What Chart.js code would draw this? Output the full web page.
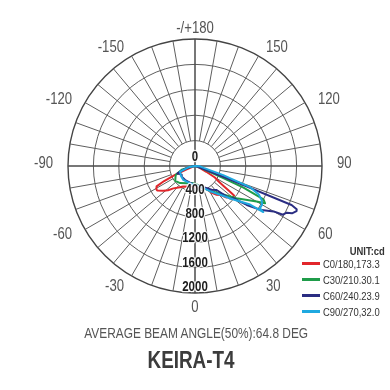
<!DOCTYPE html>
<html><head><meta charset="utf-8">
<script src="https://cdn.jsdelivr.net/npm/chart.js@4.4.1/dist/chart.umd.min.js"></script>
<style>
html,body{margin:0;padding:0;background:#fff;width:390px;height:390px;overflow:hidden;}
#wrap{position:absolute;left:0;top:0;width:390px;height:390px;}
.txt{position:absolute;white-space:nowrap;}
#beam{left:1px;width:390px;top:325px;text-align:center;font-size:14.5px;line-height:16px;color:#555;}
#title{left:-4px;width:390px;top:347px;text-align:center;font-size:23px;line-height:26px;font-weight:bold;color:#3c3c3c;}
#unit{right:5px;top:245px;font-size:11.5px;line-height:13px;font-weight:bold;color:#333;}
.row{position:absolute;left:302px;height:16px;}
.sw{position:absolute;left:0;top:6px;width:18px;height:3px;}
.lt{position:absolute;left:21px;top:0;font-size:11.5px;line-height:16px;color:#333;white-space:nowrap;}
</style></head><body>
<div id="wrap"><canvas id="c" width="390" height="390"></canvas></div>
<div id="legend"></div>
<div id="beam" class="txt">AVERAGE BEAM ANGLE(50%):64.8 DEG</div>
<div id="title" class="txt">KEIRA-T4</div>
<script>
// ---------- data ----------
const tickValues = [0, 400, 800, 1200, 1600, 2000];
const angleLabelStep = 30;
const seriesNames = ['C0/180,173.3', 'C30/210.30.1', 'C60/240.23.9', 'C90/270,32.0'];
const seriesColors = ['#e2262b', '#1f9c4a', '#2a2d82', '#1fa9e0'];

const c0Gamma = [90, 75, 68, 63, 60, 57, 55, 54, 53, 51, 47, 45, 41, 37, 32, 27, 15, 0, -14, -30, -35, -44, -48, -52, -57, -59, -62, -64, -66, -68, -75, -90];
const c0Cd    = [0, 30, 80, 200, 362, 440, 560, 650, 770, 776, 713, 702, 603, 566, 500, 410, 340, 320, 335, 374, 410, 490, 570, 632, 710, 710, 685, 541, 345, 150, 30, 0];

const c30Gamma = [90, 80, 75, 70, 67, 66, 64, 62, 60, 52, 31, 15, 0, -11, -25, -41, -53, -65, -74, -80, -90];
const c30Cd    = [0, 20, 40, 150, 485, 836, 1200, 1250, 1119, 827, 455, 330, 280, 273, 300, 357, 390, 336, 218, 60, 0];

const c60Gamma = [90, 80, 72, 69, 68, 67, 66, 64, 63, 61, 60, 56, 53, 50, 47, 42, 35, 15, 0, -17, -35, -51, -57, -67, -75, -85, -90];
const c60Cd    = [0, 20, 80, 480, 1640, 1740, 1750, 1700, 1620, 1583, 1430, 1230, 1020, 790, 750, 509, 456, 330, 300, 274, 270, 269, 250, 301, 150, 30, 0];

const c90Gamma = [90, 86, 78, 72, 69, 66, 63, 60, 57, 56, 55, 49, 31, 15, 0, -15, -28, -40, -55, -69, -79, -90];
const c90Cd    = [0, 80, 140, 468, 926, 1100, 1177, 1220, 1219, 1297, 1059, 803, 463, 340, 300, 285, 280, 287, 270, 252, 107, 0];

// ---------- build table ----------
const N = 360;
const gammaLabels = [];
for (let i = 0; i < N; i++) gammaLabels.push(i === 0 ? '-/+180' : String(180 - i));
function toSeries(gs, vs) {
  const arr = new Array(N).fill(null);
  gs.forEach((g, k) => { const idx = ((Math.round(180 - g) % N) + N) % N; arr[idx] = vs[k]; });
  return arr;
}
const seriesData = [toSeries(c0Gamma, c0Cd), toSeries(c30Gamma, c30Cd), toSeries(c60Gamma, c60Cd), toSeries(c90Gamma, c90Cd)];
const drawOrder = [3, 2, 1, 0];

// ---------- font detection ----------
function narrowAvailable() {
  const c = document.createElement('canvas').getContext('2d');
  c.font = '40px "Liberation Sans Narrow", "Liberation Sans"';
  const a = c.measureText('AVERAGE BEAM 0123').width;
  c.font = '40px "Liberation Sans"';
  const b = c.measureText('AVERAGE BEAM 0123').width;
  return Math.abs(a - b) > 2;
}
const hasNarrow = narrowAvailable();
const FAMILY = hasNarrow ? '"Liberation Sans Narrow", "Liberation Sans", sans-serif' : '"Liberation Sans", sans-serif';
const SQ = hasNarrow ? 1 : 0.82;

function squeezeEl(el, origin) {
  el.style.fontFamily = FAMILY;
  if (SQ !== 1) { el.style.transform = 'scaleX(' + SQ + ')'; el.style.transformOrigin = origin; }
}
squeezeEl(document.getElementById('beam'), '196px 50%');
squeezeEl(document.getElementById('title'), '195px 50%');

// legend (html)
const legend = document.getElementById('legend');
const unit = document.createElement('div');
unit.className = 'txt'; unit.id = 'unit'; unit.textContent = 'UNIT:cd';
legend.appendChild(unit); squeezeEl(unit, '100% 50%');
seriesNames.forEach((name, k) => {
  const row = document.createElement('div');
  row.className = 'row'; row.style.top = (256 + k * 16) + 'px';
  const sw = document.createElement('div'); sw.className = 'sw'; sw.style.background = seriesColors[k];
  const lt = document.createElement('div'); lt.className = 'lt'; lt.textContent = name;
  row.appendChild(sw); row.appendChild(lt); legend.appendChild(row);
  squeezeEl(lt, '0 50%');
});

// ---------- plugins (labels drawn from scale geometry) ----------
function drawText(ctx, text, x, y, align, stroke) {
  ctx.save();
  ctx.translate(x, y);
  ctx.scale(SQ, 1);
  ctx.textAlign = align;
  if (stroke) { ctx.strokeText(text, 0, 0); }
  ctx.fillText(text, 0, 0);
  ctx.restore();
}
const angleLabelPlugin = {
  id: 'angleLabels',
  afterDraw(chart) {
    const s = chart.scales.r, ctx = chart.ctx;
    ctx.save();
    ctx.font = '16px ' + FAMILY;
    ctx.fillStyle = '#555';
    ctx.textBaseline = 'middle';
    for (let i = 0; i < N; i += angleLabelStep) {
      const text = gammaLabels[i];
      if (i === 0) {
        const p = s.getPointPosition(i, s.drawingArea + 10);
        drawText(ctx, text, p.x, p.y, 'center');
      } else if (i === 180) {
        const p = s.getPointPosition(i, s.drawingArea + 15);
        drawText(ctx, text, p.x, p.y, 'center');
      } else {
        const p = s.getPointPosition(i, s.drawingArea + 15);
        const dy = (i < 90 || i > 270) ? 5 : -2;
        drawText(ctx, text, p.x, p.y + dy, i < 180 ? 'left' : 'right');
      }
    }
    ctx.restore();
  }
};
const tickLabelPlugin = {
  id: 'tickLabels',
  afterDatasetsDraw(chart) {
    const s = chart.scales.r, ctx = chart.ctx;
    ctx.save();
    ctx.font = 'bold 14px ' + FAMILY;
    ctx.textBaseline = 'middle';
    ctx.fillStyle = '#1e1e1e';
    ctx.strokeStyle = 'rgba(255,255,255,0.85)';
    ctx.lineWidth = 2.5;
    ctx.lineJoin = 'round';
    tickValues.forEach(v => {
      const d = s.getDistanceFromCenterForValue(v);
      const y = v === 0 ? s.yCenter - 8.5 : s.yCenter + 0.952 * d;
      drawText(ctx, String(v), s.xCenter, y, 'center', true);
    });
    ctx.restore();
  }
};

// ---------- chart ----------
const chart = new Chart(document.getElementById('c'), {
  type: 'radar',
  data: {
    labels: gammaLabels,
    datasets: seriesNames.map((name, k) => ({
      label: name,
      data: seriesData[k],
      borderColor: seriesColors[k],
      backgroundColor: 'transparent',
      borderWidth: 2,
      fill: false,
      pointRadius: 0,
      pointHoverRadius: 0,
      pointHitRadius: 0,
      tension: 0,
      spanGaps: true,
      order: drawOrder[k]
    }))
  },
  options: {
    responsive: false,
    animation: false,
    devicePixelRatio: 1,
    layout: { padding: { left: 68, right: 68, top: 39, bottom: 97 } },
    plugins: { legend: { display: false }, tooltip: { enabled: false } },
    elements: { line: { borderJoinStyle: 'round' } },
    scales: {
      r: {
        min: 0, max: 2000,
        startAngle: 0,
        ticks: { stepSize: 400, display: false },
        grid: {
          circular: true,
          color: ctx => (ctx.tick && ctx.tick.value === 2000) ? '#444' : '#5e5e5e',
          lineWidth: ctx => (ctx.tick && ctx.tick.value === 2000) ? 1.4 : 1
        },
        angleLines: {
          display: true,
          color: ctx => ctx.index % 90 === 0 ? '#4a4a4a' : '#5e5e5e',
          lineWidth: ctx => ctx.index % 90 === 0 ? 1.5 : (ctx.index % 10 === 0 ? 1 : 0),
          borderDash: ctx => ctx.index % 90 === 0 ? [] : [0, ctx.scale.getDistanceFromCenterForValue(400), 1000]
        },
        pointLabels: { display: false }
      }
    }
  },
  plugins: [angleLabelPlugin, tickLabelPlugin]
});
</script>
</body></html>
